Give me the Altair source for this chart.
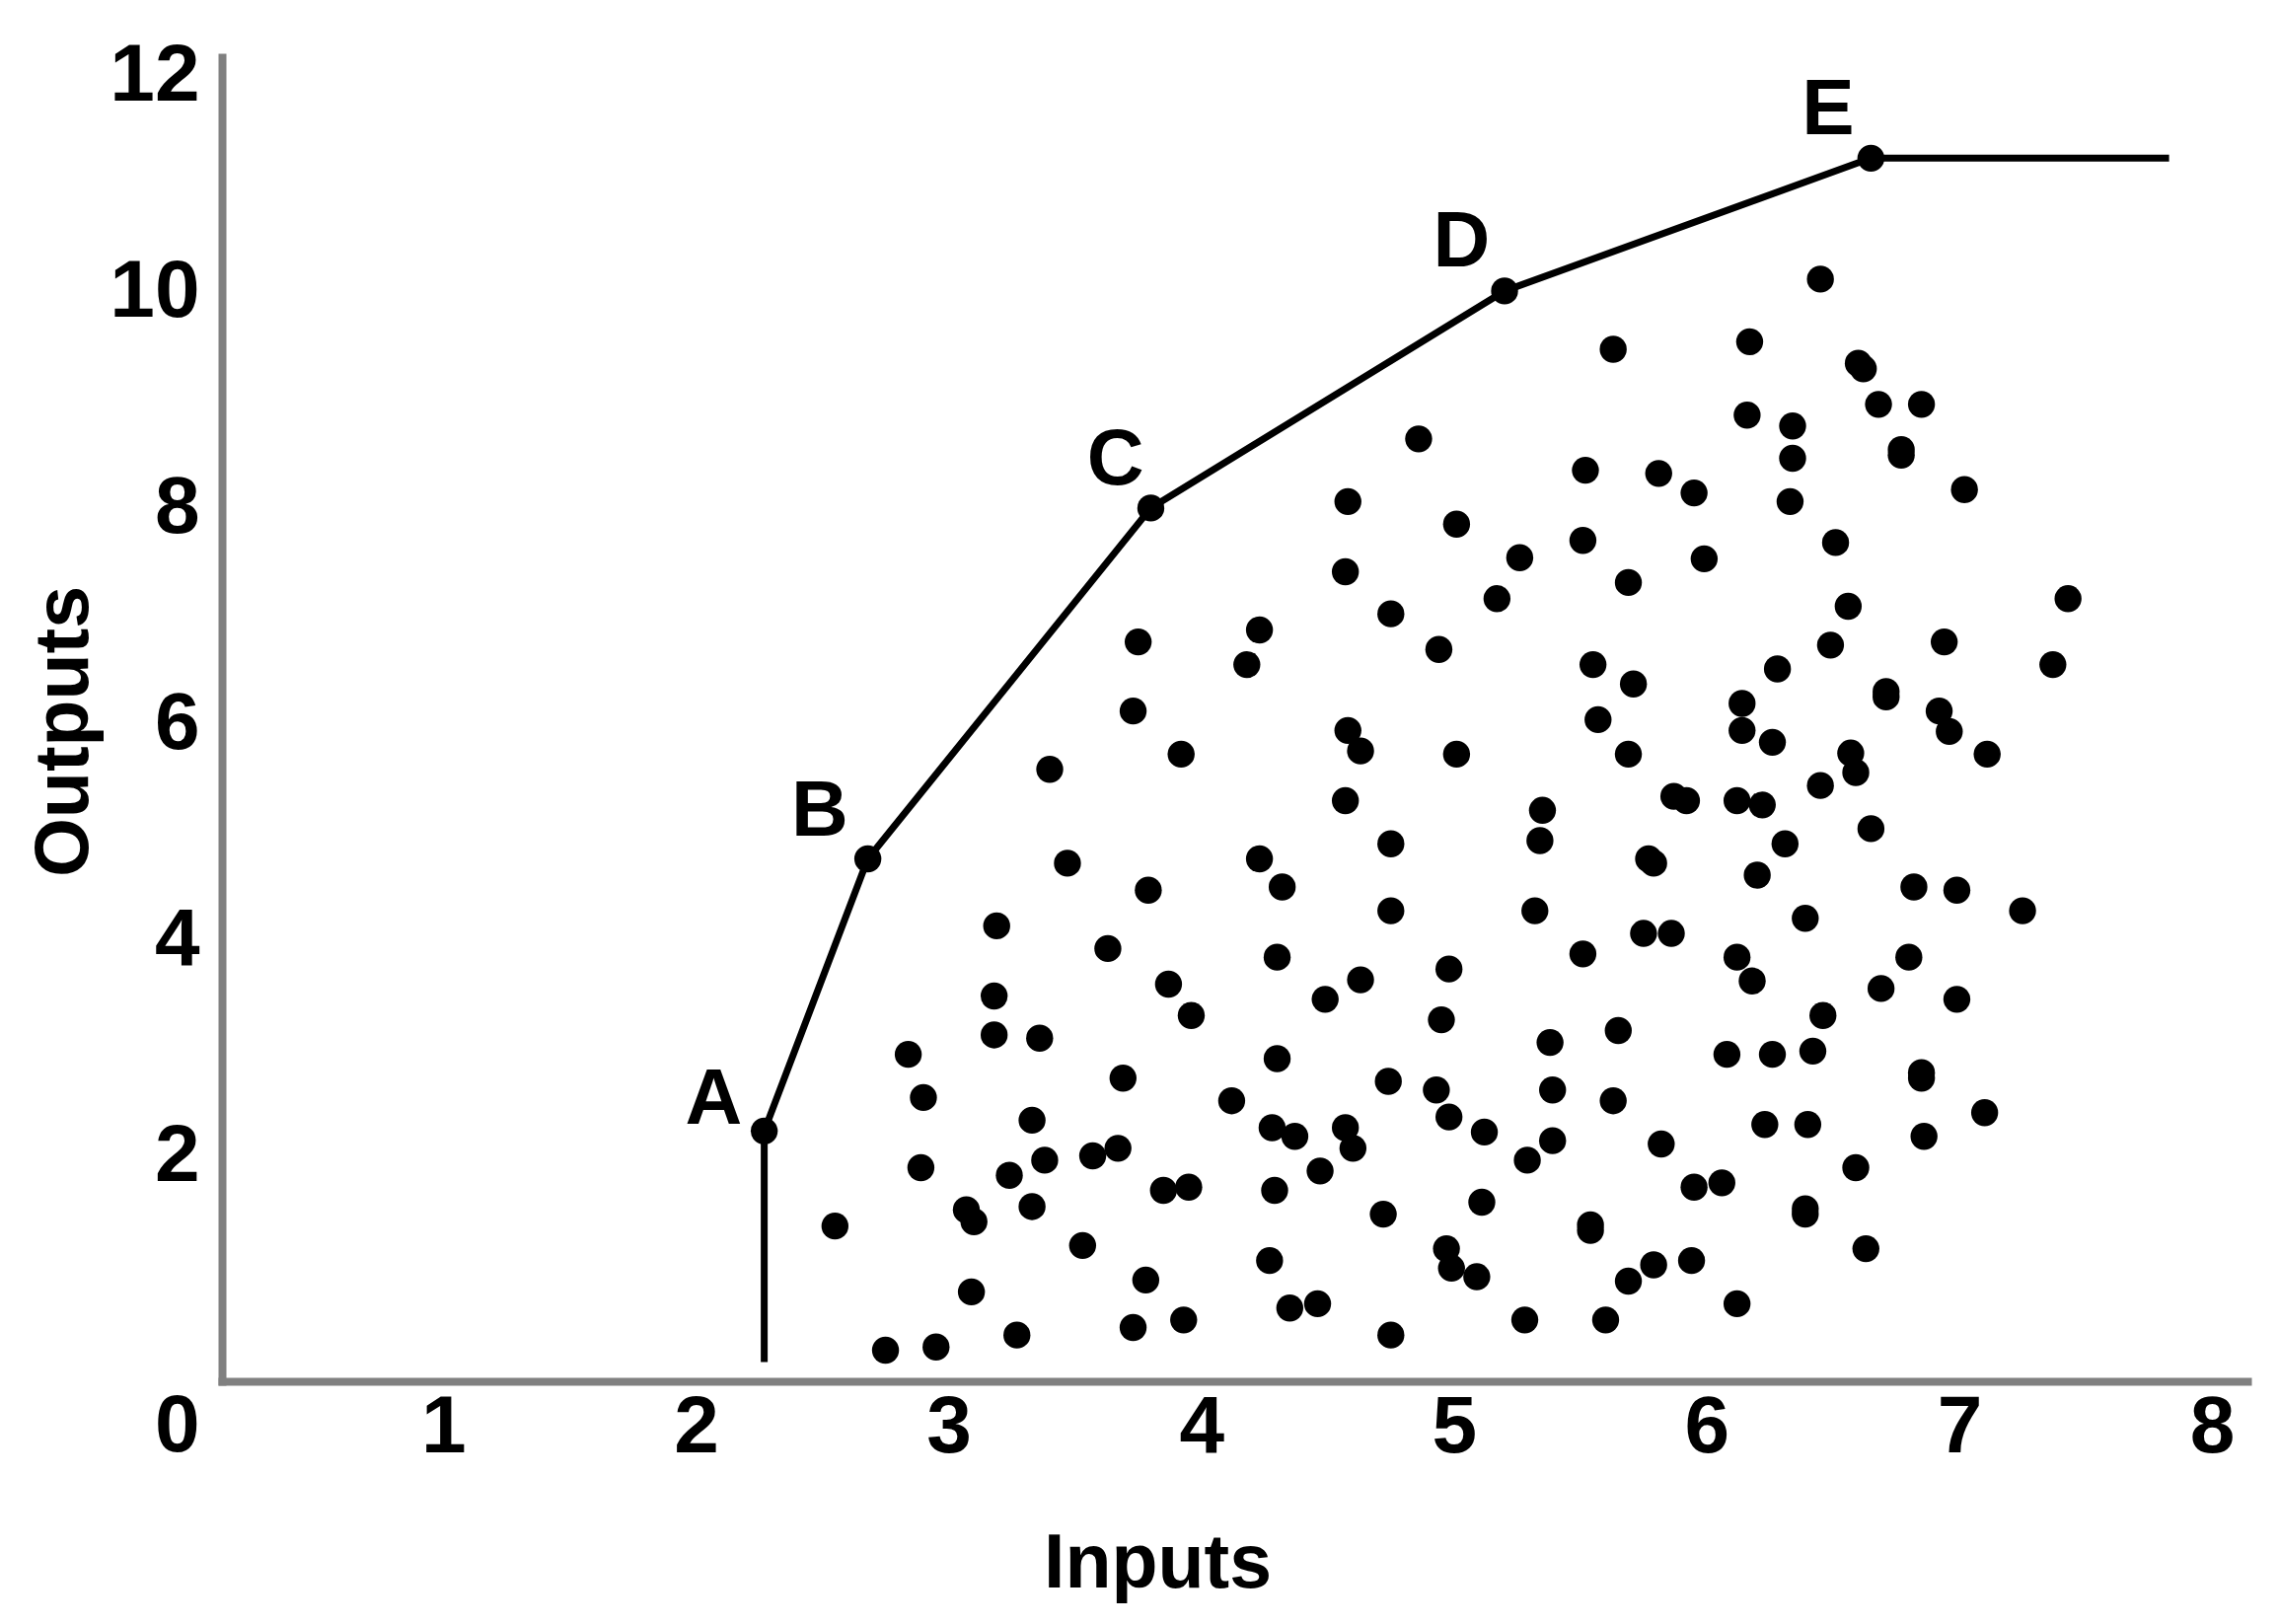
import altair as alt
import pandas as pd

FONT = "Liberation Sans"

# Efficient-frontier points (A..E)
frontier_labels = ["A", "B", "C", "D", "E"]
frontier_x = [2.27, 2.68, 3.80, 5.20, 6.65]
frontier_y = [2.20, 4.72, 7.97, 9.98, 11.21]

# Frontier line path: vertical drop under A, the frontier, then the flat tail after E
path_x = [2.27, 2.27, 2.68, 3.80, 5.20, 6.65, 7.83]
path_y = [0.06, 2.20, 4.72, 7.97, 9.98, 11.21, 11.21]

# Letter label positions
label_x = [2.07, 2.49, 3.66, 5.03, 6.48]
label_y = [2.49, 5.15, 8.41, 10.43, 11.65]

# Scatter of inefficient units
scatter_x = [
    5.63, 4.86, 5.52, 5.81, 4.58, 5.01, 5.51, 5.26,
    6.45, 6.17, 6.60, 6.62, 6.68, 6.85, 6.16, 6.34, 6.34, 6.77, 6.77, 7.02, 5.95, 6.33, 6.51,
    5.99, 7.43, 6.56, 6.49, 6.94, 7.37, 6.28, 6.71, 6.71, 6.14, 6.14, 6.26, 6.92, 6.96, 7.11,
    6.57, 6.59, 6.45, 6.12, 6.22, 6.65, 6.31, 6.20, 6.82, 6.99, 7.25, 6.39, 6.12, 6.80,
    4.57, 5.69, 5.17, 4.75, 4.23, 4.18, 4.94, 5.55, 5.71, 5.57, 5.69, 4.58, 4.63, 5.01, 4.57,
    5.35, 5.34, 5.87, 5.92, 4.75, 5.77, 5.79, 4.23, 4.32, 4.75, 5.32, 5.75, 5.86, 4.30, 4.98, 5.51,
    3.75, 3.73, 3.92, 3.40, 3.47, 3.79, 3.19, 3.63,
    3.87, 3.96, 3.18, 3.18, 3.36, 2.84, 3.69, 2.90, 3.33, 3.38, 3.57, 3.67, 2.89, 3.24, 3.33,
    3.07, 3.10, 2.55, 3.53, 3.85, 3.95, 3.09, 3.78, 3.27, 3.73, 3.93, 2.75, 2.95,
    4.63, 4.49, 4.95, 5.65, 5.38, 4.30, 4.74, 4.93, 4.98, 5.39, 5.63, 4.12, 4.28, 4.37, 4.57,
    4.60, 5.12, 5.39, 5.29, 5.82, 4.47, 4.29, 4.72, 5.11, 5.54, 5.54, 4.27, 4.97, 4.99, 5.09,
    5.69, 5.79, 4.35, 4.46, 4.75, 5.28, 5.60,
    6.18, 6.69, 6.99, 6.46, 6.08, 6.26, 6.42, 6.85, 6.85, 7.10, 6.23, 6.40, 6.86, 6.59, 5.95,
    6.06, 6.39, 6.39, 5.94, 6.63, 6.12,
]
scatter_y = [
    9.44, 8.61, 8.32, 8.29, 8.03, 7.82, 7.67, 7.51,
    10.09, 9.51, 9.31, 9.26, 8.93, 8.93, 8.83, 8.73, 8.43, 8.51, 8.46, 8.14, 8.11, 8.03, 7.65,
    7.50, 7.13, 7.06, 6.70, 6.73, 6.52, 6.48, 6.27, 6.22, 6.16, 5.91, 5.80, 6.09, 5.90, 5.69,
    5.70, 5.52, 5.40, 5.26, 5.22, 5.00, 4.86, 4.57, 4.46, 4.43, 4.24, 4.17, 3.81, 3.81,
    7.38, 7.28, 7.13, 6.99, 6.84, 6.52, 6.66, 6.52, 6.34, 6.01, 5.69, 5.91, 5.72, 5.69, 5.26,
    5.17, 4.89, 5.30, 5.26, 4.86, 4.72, 4.68, 4.72, 4.46, 4.24, 4.24, 4.03, 4.03, 3.81, 3.70, 3.84,
    6.73, 6.09, 5.69, 5.55, 4.68, 4.43, 4.10, 3.89,
    3.56, 3.27, 3.45, 3.09, 3.06, 2.91, 2.69, 2.51, 2.30, 1.93, 1.97, 2.04, 1.86, 1.79, 1.50,
    1.47, 1.36, 1.32, 1.14, 1.65, 1.68, 0.71, 0.82, 0.31, 0.38, 0.45, 0.17, 0.20,
    3.60, 3.42, 3.23, 3.13, 3.02, 2.87, 2.66, 2.58, 2.33, 2.58, 2.48, 2.48, 2.23, 2.15, 2.23,
    2.04, 2.19, 2.11, 1.93, 2.08, 1.83, 1.65, 1.43, 1.54, 1.33, 1.28, 1.00, 1.11, 0.93, 0.85,
    0.81, 0.96, 0.56, 0.60, 0.31, 0.45, 0.45,
    3.59, 3.52, 3.42, 3.27, 2.91, 2.91, 2.94, 2.74, 2.69, 2.37, 2.26, 2.26, 2.15, 1.86, 1.68,
    1.72, 1.48, 1.43, 1.00, 1.11, 0.60,
]

x_ticks = [1, 2, 3, 4, 5, 6, 7, 8]
y_ticks = [0, 2, 4, 6, 8, 10, 12]

pts = pd.DataFrame({"x": scatter_x, "y": scatter_y})
front = pd.DataFrame({"x": frontier_x, "y": frontier_y})
labels = pd.DataFrame({"x": label_x, "y": label_y, "label": frontier_labels})
path = pd.DataFrame({"x": path_x, "y": path_y, "order": list(range(len(path_x)))})

x_scale = alt.Scale(domain=[0.124, 8.14], nice=False, zero=False)
y_scale = alt.Scale(domain=[-0.118, 12.145], nice=False, zero=False)

x_axis = alt.Axis(
    title="Inputs", values=x_ticks, format="d", grid=False, ticks=False,
    domainColor="#808080", domainWidth=8, domainCap="square",
    labelFont=FONT, labelFontSize=82, labelFontWeight="bold", labelColor="black",
    labelPadding=6, labelFlush=False, labelOverlap=False,
    titleFont=FONT, titleFontSize=77, titleFontWeight="bold", titleColor="black",
    titleX=948, titleY=208, titleBaseline="alphabetic", titleAlign="center",
)
y_axis = alt.Axis(
    title="Outputs", values=y_ticks, format="d", grid=False, ticks=False,
    domainColor="#808080", domainWidth=8, domainCap="square",
    labelFont=FONT, labelFontSize=82, labelFontWeight="bold", labelColor="black",
    labelPadding=23, labelFlush=False, labelOverlap=False,
    labelOffset={"condition": {"test": "datum.value === 0", "value": 58}, "value": 3},
    titleFont=FONT, titleFontSize=77, titleFontWeight="bold", titleColor="black",
    titleAngle=270, titleX=-137, titleY=683, titleBaseline="alphabetic", titleAlign="center",
)

X = alt.X("x:Q", scale=x_scale, axis=x_axis)
Y = alt.Y("y:Q", scale=y_scale, axis=y_axis)

line = alt.Chart(path).mark_line(color="black", strokeWidth=7).encode(
    x=X, y=Y, order="order:Q"
)
dots = alt.Chart(pts).mark_circle(size=750, color="black", opacity=1).encode(x=X, y=Y)
fdots = alt.Chart(front).mark_circle(size=750, color="black", opacity=1).encode(x=X, y=Y)
text = alt.Chart(labels).mark_text(
    font=FONT, fontSize=80, fontWeight="bold", color="black",
    align="center", baseline="middle",
).encode(x=X, y=Y, text="label:N")

chart = alt.layer(line, dots, fdots, text).properties(
    width=2053, height=1342,
    autosize=alt.AutoSizeParams(type="none"),
    padding={"left": 217, "top": 50, "right": 16, "bottom": 234},
    background="white",
).configure(font=FONT, view=alt.ViewConfig(stroke=None))

chart.save("out.html", embed_options={"renderer": "svg", "actions": False})
